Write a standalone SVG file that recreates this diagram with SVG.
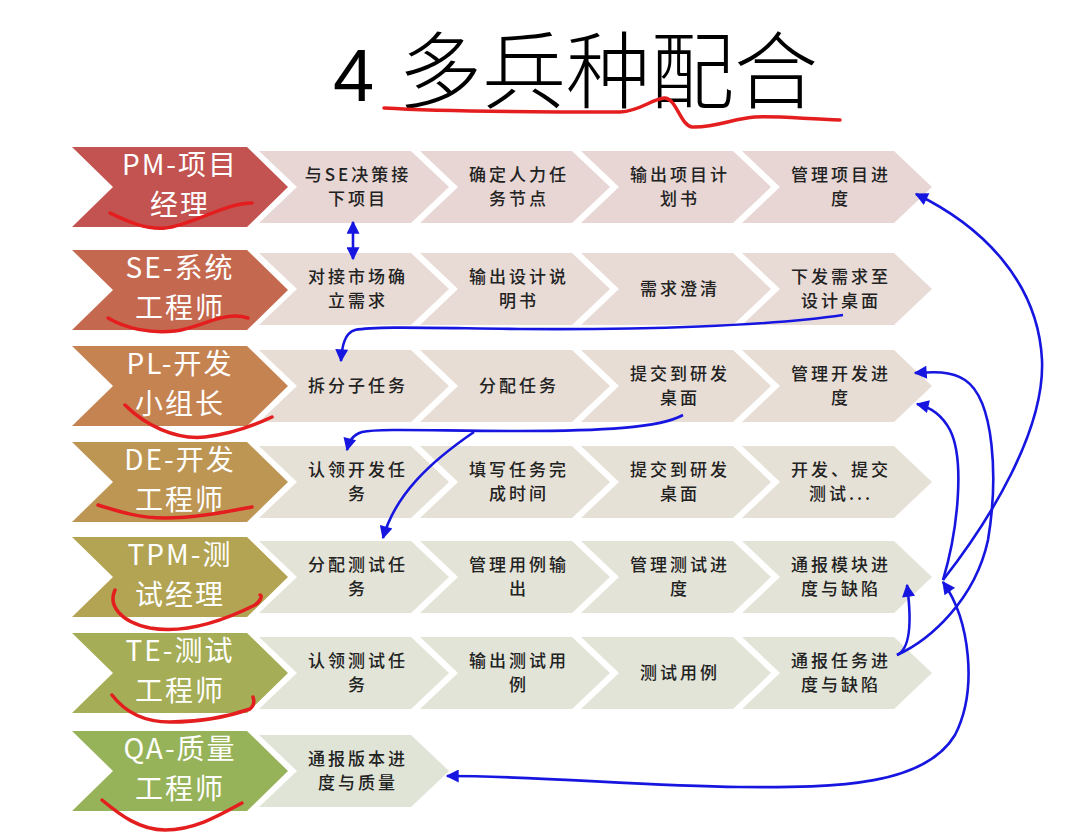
<svg xmlns="http://www.w3.org/2000/svg" width="1072" height="837" viewBox="0 0 1072 837">
<style>
.lbl{font-family:"Noto Sans CJK SC","Noto Sans",sans-serif;font-size:28px;letter-spacing:2px;fill:#ffffff;text-anchor:middle}
.stp{font-family:"Noto Sans CJK SC","Noto Sans",sans-serif;font-size:17px;fill:#222222;text-anchor:middle;letter-spacing:3px;font-weight:500}
.ul{fill:none;stroke:#e41e1e;stroke-width:3.5;stroke-linecap:round;stroke-linejoin:round}
.cn{fill:none;stroke:#1616e0;stroke-width:2.6}
.r1{fill:#e7d6d4}.r2{fill:#e8dad5}.r3{fill:#e7ddd5}.r4{fill:#e6e1d6}.r5{fill:#e4e3d7}.r6{fill:#e1e4d7}.r7{fill:#dfe4d7}
</style>
<defs>
<marker id="ah" viewBox="0 0 10 10" refX="9" refY="5" markerUnits="userSpaceOnUse" markerWidth="17" markerHeight="13" orient="auto-start-reverse">
<path d="M0,0 L10,5 L0,10 z" fill="#1616e0"/>
</marker>
<polygon id="chev" points="0,-40 175,-40 216,0 175,40 0,40 41,0"/>
<polygon id="step" points="0,-36 152,-36 190,0 152,36 0,36 38,0"/>
</defs>
<rect width="1072" height="837" fill="#ffffff"/>

<g id="title">
<text x="333" y="101" font-family="Liberation Sans, sans-serif" font-size="74">4</text>
<text x="398" y="102" font-family="Noto Sans CJK SC, sans-serif" font-size="84" font-weight="300">多兵种配合</text>
</g>

<!-- Role labels -->
<g id="label-pm"><use href="#chev" x="72" y="187" fill="#c25350"/><text class="lbl" x="180" y="175">PM-项目</text><text class="lbl" x="180" y="215">经理</text></g>
<g id="label-se"><use href="#chev" x="72" y="290" fill="#c4694f"/><text class="lbl" x="180" y="278">SE-系统</text><text class="lbl" x="180" y="318">工程师</text></g>
<g id="label-pl"><use href="#chev" x="72" y="386" fill="#c58352"/><text class="lbl" x="180" y="374">PL-开发</text><text class="lbl" x="180" y="414">小组长</text></g>
<g id="label-de"><use href="#chev" x="72" y="482" fill="#bd9654"/><text class="lbl" x="180" y="470">DE-开发</text><text class="lbl" x="180" y="510">工程师</text></g>
<g id="label-tpm"><use href="#chev" x="72" y="577" fill="#b2a453"/><text class="lbl" x="180" y="565">TPM-测</text><text class="lbl" x="180" y="605">试经理</text></g>
<g id="label-te"><use href="#chev" x="72" y="673" fill="#a5ad56"/><text class="lbl" x="180" y="661">TE-测试</text><text class="lbl" x="180" y="701">工程师</text></g>
<g id="label-qa"><use href="#chev" x="72" y="771" fill="#97b35a"/><text class="lbl" x="180" y="759">QA-质量</text><text class="lbl" x="180" y="799">工程师</text></g>

<!-- Row 1 -->
<g id="pm-1"><use href="#step" x="259" y="187" class="r1"/><text class="stp" x="358" y="181">与SE决策接</text><text class="stp" x="358" y="205">下项目</text></g>
<g id="pm-2"><use href="#step" x="420" y="187" class="r1"/><text class="stp" x="519" y="181">确定人力任</text><text class="stp" x="519" y="205">务节点</text></g>
<g id="pm-3"><use href="#step" x="581" y="187" class="r1"/><text class="stp" x="680" y="181">输出项目计</text><text class="stp" x="680" y="205">划书</text></g>
<g id="pm-4"><use href="#step" x="742" y="187" class="r1"/><text class="stp" x="841" y="181">管理项目进</text><text class="stp" x="841" y="205">度</text></g>
<!-- Row 2 -->
<g id="se-1"><use href="#step" x="259" y="289" class="r2"/><text class="stp" x="358" y="283">对接市场确</text><text class="stp" x="358" y="307">立需求</text></g>
<g id="se-2"><use href="#step" x="420" y="289" class="r2"/><text class="stp" x="519" y="283">输出设计说</text><text class="stp" x="519" y="307">明书</text></g>
<g id="se-3"><use href="#step" x="581" y="289" class="r2"/><text class="stp" x="680" y="295">需求澄清</text></g>
<g id="se-4"><use href="#step" x="742" y="289" class="r2"/><text class="stp" x="841" y="283">下发需求至</text><text class="stp" x="841" y="307">设计桌面</text></g>
<!-- Row 3 -->
<g id="pl-1"><use href="#step" x="259" y="386" class="r3"/><text class="stp" x="358" y="392">拆分子任务</text></g>
<g id="pl-2"><use href="#step" x="420" y="386" class="r3"/><text class="stp" x="519" y="392">分配任务</text></g>
<g id="pl-3"><use href="#step" x="581" y="386" class="r3"/><text class="stp" x="680" y="380">提交到研发</text><text class="stp" x="680" y="404">桌面</text></g>
<g id="pl-4"><use href="#step" x="742" y="386" class="r3"/><text class="stp" x="841" y="380">管理开发进</text><text class="stp" x="841" y="404">度</text></g>
<!-- Row 4 -->
<g id="de-1"><use href="#step" x="259" y="482" class="r4"/><text class="stp" x="358" y="476">认领开发任</text><text class="stp" x="358" y="500">务</text></g>
<g id="de-2"><use href="#step" x="420" y="482" class="r4"/><text class="stp" x="519" y="476">填写任务完</text><text class="stp" x="519" y="500">成时间</text></g>
<g id="de-3"><use href="#step" x="581" y="482" class="r4"/><text class="stp" x="680" y="476">提交到研发</text><text class="stp" x="680" y="500">桌面</text></g>
<g id="de-4"><use href="#step" x="742" y="482" class="r4"/><text class="stp" x="841" y="476">开发、提交</text><text class="stp" x="841" y="500">测试...</text></g>
<!-- Row 5 -->
<g id="tpm-1"><use href="#step" x="259" y="577" class="r5"/><text class="stp" x="358" y="571">分配测试任</text><text class="stp" x="358" y="595">务</text></g>
<g id="tpm-2"><use href="#step" x="420" y="577" class="r5"/><text class="stp" x="519" y="571">管理用例输</text><text class="stp" x="519" y="595">出</text></g>
<g id="tpm-3"><use href="#step" x="581" y="577" class="r5"/><text class="stp" x="680" y="571">管理测试进</text><text class="stp" x="680" y="595">度</text></g>
<g id="tpm-4"><use href="#step" x="742" y="577" class="r5"/><text class="stp" x="841" y="571">通报模块进</text><text class="stp" x="841" y="595">度与缺陷</text></g>
<!-- Row 6 -->
<g id="te-1"><use href="#step" x="259" y="673" class="r6"/><text class="stp" x="358" y="667">认领测试任</text><text class="stp" x="358" y="691">务</text></g>
<g id="te-2"><use href="#step" x="420" y="673" class="r6"/><text class="stp" x="519" y="667">输出测试用</text><text class="stp" x="519" y="691">例</text></g>
<g id="te-3"><use href="#step" x="581" y="673" class="r6"/><text class="stp" x="680" y="679">测试用例</text></g>
<g id="te-4"><use href="#step" x="742" y="673" class="r6"/><text class="stp" x="841" y="667">通报任务进</text><text class="stp" x="841" y="691">度与缺陷</text></g>
<!-- Row 7 -->
<g id="qa-1"><use href="#step" x="259" y="771" class="r7"/><text class="stp" x="358" y="765">通报版本进</text><text class="stp" x="358" y="789">度与质量</text></g>

<!-- Connectors -->
<g id="connectors">
<path class="cn" d="M353,222 L353,259" marker-start="url(#ah)" marker-end="url(#ah)"/>
<path class="cn" d="M843,315 C770,326 640,330 520,329 C430,328 375,326 355,330 C345,333 342,345 341,361" marker-end="url(#ah)"/>
<path class="cn" d="M683,415 C660,428 600,431 520,431 C440,431 380,428 362,432 C352,435 349,442 347,450" marker-end="url(#ah)"/>
<path class="cn" d="M474,432 C430,462 395,495 383,538" marker-end="url(#ah)"/>
<path class="cn" d="M943,582 C970,620 978,690 955,735 C925,785 840,788 740,787 C640,786 540,776 447,776" marker-start="url(#ah)" marker-end="url(#ah)"/>
<path class="cn" d="M943,580 C990,520 1045,430 1042,360 C1038,280 980,225 916,194" marker-end="url(#ah)"/>
<path class="cn" d="M943,580 C958,530 965,460 950,430 C942,415 930,407 917,404" marker-end="url(#ah)"/>
<path class="cn" d="M897,655 C930,640 975,600 988,540 C998,480 995,400 965,380 C950,370 930,372 915,373" marker-end="url(#ah)"/>
<path class="cn" d="M897,655 C908,650 913,630 907,585" marker-end="url(#ah)"/>
</g>

<!-- Red hand-drawn underlines -->
<g id="annotations">
<path class="ul" d="M384,108 C450,112 560,112 620,112 C640,111 650,100 664,98 C676,97 680,125 692,127 C715,128 735,118 755,117 C780,116 805,119 840,120"/>
<path class="ul" d="M110,213 C125,220 145,230 165,228 C190,226 225,203 252,203"/>
<path class="ul" d="M108,318 C125,328 150,334 175,331 C200,328 225,310 248,318"/>
<path class="ul" d="M125,405 C145,425 175,440 205,437 C230,434 255,425 272,417"/>
<path class="ul" d="M98,505 C120,512 140,518 165,518 C195,518 225,512 252,507"/>
<path class="ul" d="M115,590 C108,605 120,622 150,628 C185,634 225,620 255,605 C262,600 262,595 260,595"/>
<path class="ul" d="M112,695 C125,712 145,722 170,722 C200,722 230,716 250,709 C255,705 254,700 253,697"/>
<path class="ul" d="M102,800 C120,815 140,830 165,830 C195,830 220,815 242,803"/>
</g>
</svg>
